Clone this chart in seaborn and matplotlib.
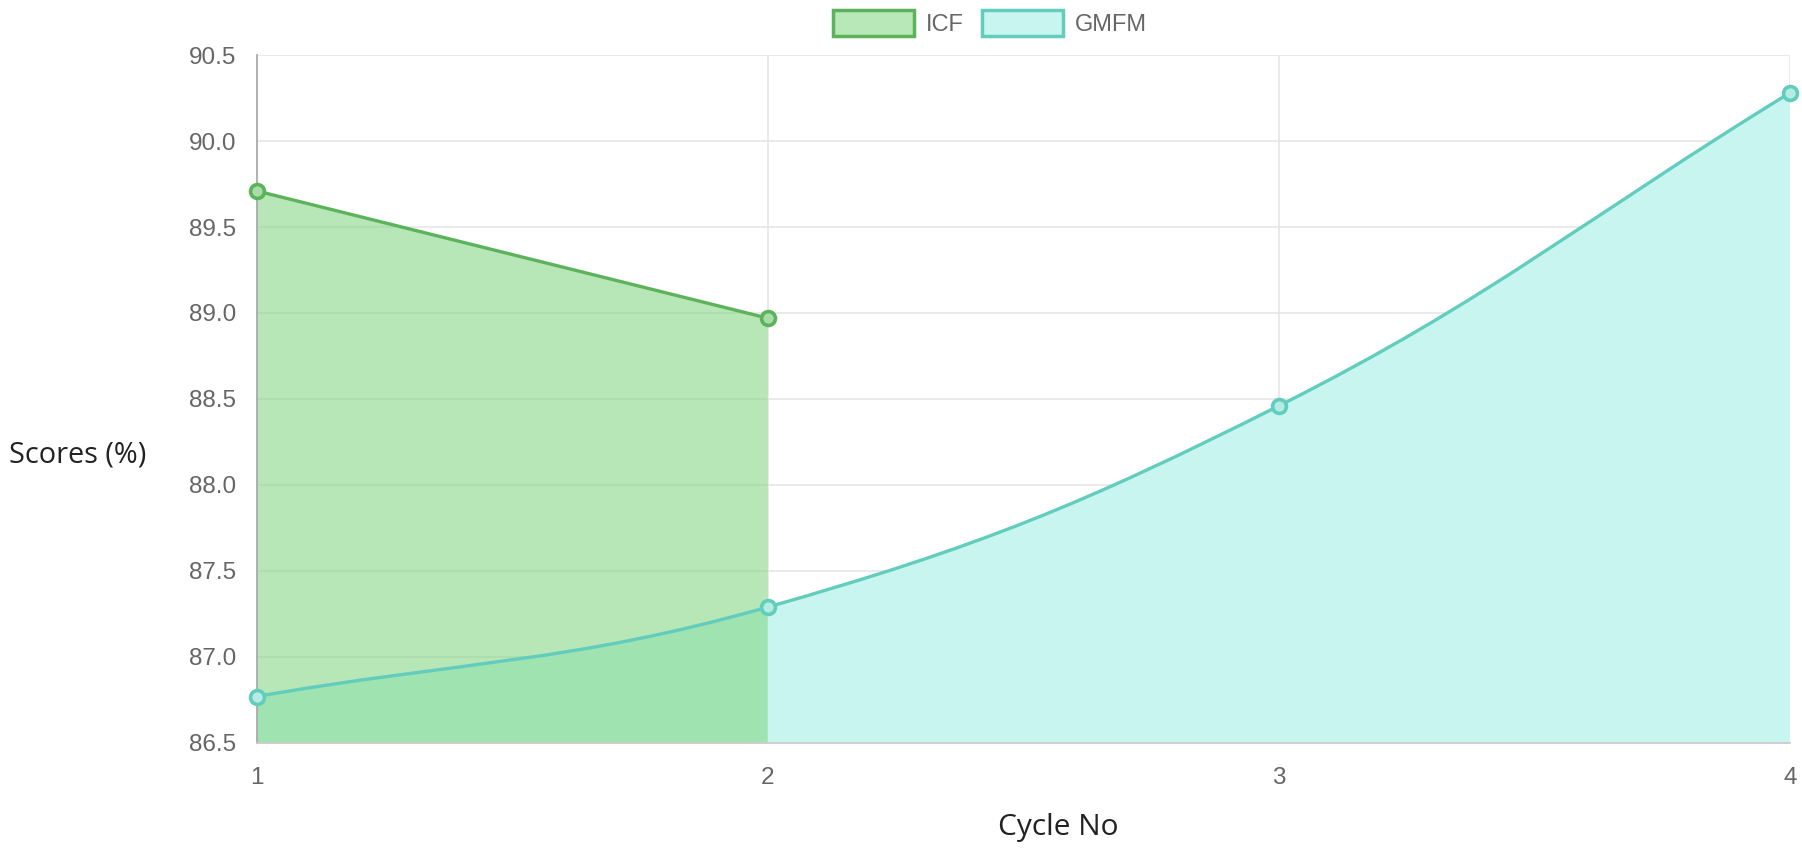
import numpy as np
import pandas as pd
import seaborn as sns
import matplotlib.pyplot as plt
from matplotlib.path import Path
from matplotlib.patches import PathPatch, Patch

cycles = [1, 2, 3, 4]
icf_cycles = [1, 2]
icf_scores = [89.71, 88.97]
gmfm_scores = [86.77, 87.29, 88.46, 90.28]
y_ticks = [86.5, 87.0, 87.5, 88.0, 88.5, 89.0, 89.5, 90.0, 90.5]

icf_line = '#5cb35c'
icf_fill = (125 / 255, 213 / 255, 125 / 255, 0.55)
gmfm_line = '#62cdbd'
gmfm_fill = '#c8f5f0'

sns.set_style('white')
plt.rcParams['font.family'] = ['Liberation Sans', 'DejaVu Sans']

fig = plt.figure(figsize=(18.02, 8.49), dpi=100)
ax = fig.add_axes([0.1424, 0.1249, 0.8509, 0.8103])
ax.set_xlim(1, 4)
ax.set_ylim(86.5, 90.5)

# pixel scale of one data unit, used for chart.js style spline tension
sx = 1533 / 3
sy = 688 / 4


def spline_path(xs, ys, base, t=0.4):
    pts = np.column_stack([xs, ys]).astype(float)
    n = len(pts)
    cp_prev, cp_next = [], []
    for i in range(n):
        prev = pts[max(i - 1, 0)]
        cur = pts[i]
        nxt = pts[min(i + 1, n - 1)]
        d01 = np.hypot((cur[0] - prev[0]) * sx, (cur[1] - prev[1]) * sy)
        d12 = np.hypot((nxt[0] - cur[0]) * sx, (nxt[1] - cur[1]) * sy)
        s01 = d01 / (d01 + d12)
        s12 = d12 / (d01 + d12)
        cp_prev.append(cur - t * s01 * (nxt - prev))
        cp_next.append(cur + t * s12 * (nxt - prev))
    verts = [pts[0]]
    codes = [Path.MOVETO]
    for i in range(1, n):
        verts += [cp_next[i - 1], cp_prev[i], pts[i]]
        codes += [Path.CURVE4] * 3
    line = Path(verts, codes)
    fverts = verts + [(xs[-1], base), (xs[0], base), pts[0]]
    fcodes = codes + [Path.LINETO, Path.LINETO, Path.CLOSEPOLY]
    return line, Path(fverts, fcodes)


g_line, g_fill = spline_path(cycles, gmfm_scores, 86.5)
i_line, i_fill = spline_path(icf_cycles, icf_scores, 86.5)

ax.add_patch(PathPatch(g_fill, facecolor=gmfm_fill, edgecolor='none', zorder=1))
ax.add_patch(PathPatch(i_fill, facecolor=icf_fill, edgecolor='none', zorder=1.5))
ax.add_patch(PathPatch(g_line, facecolor='none', edgecolor=gmfm_line, lw=2.4, zorder=3))
ax.add_patch(PathPatch(i_line, facecolor='none', edgecolor=icf_line, lw=2.4, zorder=3))

icf_df = pd.DataFrame({'cycle': icf_cycles, 'score': icf_scores})
gmfm_df = pd.DataFrame({'cycle': cycles, 'score': gmfm_scores})
sns.scatterplot(data=gmfm_df, x='cycle', y='score', ax=ax, s=100, color='#b4ece4',
                edgecolor=gmfm_line, linewidth=2.6, zorder=4, clip_on=False)
sns.scatterplot(data=icf_df, x='cycle', y='score', ax=ax, s=100, color='#a8dca8',
                edgecolor=icf_line, linewidth=2.6, zorder=4, clip_on=False)

ax.set_xticks(cycles)
ax.set_xticklabels([str(c) for c in cycles])
ax.set_yticks(y_ticks)
ax.set_yticklabels([f'{v:.1f}' for v in y_ticks])
ax.set_xlabel('')
ax.set_ylabel('')
ax.grid(True, color='#e6e6e6', lw=1.2, zorder=0)
ax.set_axisbelow(True)
for s in ['top', 'right']:
    ax.spines[s].set_visible(False)
ax.spines['left'].set_color('#aaaaaa')
ax.spines['bottom'].set_color('#cccccc')
ax.spines['left'].set_linewidth(1.3)
ax.spines['bottom'].set_linewidth(1.3)
ax.tick_params(axis='y', length=11.5, width=1, color='#e3e3e3', pad=3,
               labelsize=17.5, labelcolor='#666666')
ax.tick_params(axis='x', length=11, width=1, color='#e3e3e3', pad=6,
               labelsize=17.5, labelcolor='#666666')

fig.text(9 / 1802, 1 - 455 / 849, 'Scores (%)', ha='left', va='center',
         fontsize=20.8, family=['Open Sans', 'DejaVu Sans'], color='#222222')
fig.text(1058 / 1802, 1 - 827 / 849, 'Cycle No', ha='center', va='center',
         fontsize=21.5, family=['Open Sans', 'DejaVu Sans'], color='#222222')

handles = [Patch(facecolor='#b8e8b8', edgecolor=icf_line, lw=2.5, label='ICF'),
           Patch(facecolor=gmfm_fill, edgecolor=gmfm_line, lw=2.5, label='GMFM')]
fig.legend(handles=handles, loc='center', bbox_to_anchor=(990 / 1802, 1 - 23 / 849),
           ncol=2, frameon=False, fontsize=17, labelcolor='#666666',
           handlelength=3.4, handleheight=1.35, handletextpad=0.5, columnspacing=0.8)

fig.savefig('out.png', dpi=100)
